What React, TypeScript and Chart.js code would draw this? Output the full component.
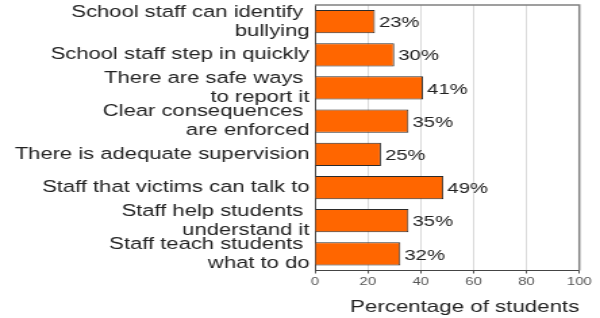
import React, { useEffect, useRef } from "react";
import { Chart, registerables } from "chart.js";

Chart.register(...registerables);

const categories: (string | string[])[] = [
  ["School staff can identify ", "bullying"],
  "School staff step in quickly",
  ["There are safe ways ", "to report it"],
  ["Clear consequences ", "are enforced"],
  "There is adequate supervision",
  "Staff that victims can talk to",
  ["Staff help students ", "understand it"],
  ["Staff teach students ", "what to do"],
];
const values = [22.7, 30, 40.9, 35.4, 25, 48.6, 35.4, 32.3];
const valueLabels = ["23%", "30%", "41%", "35%", "25%", "49%", "35%", "32%"];
const xTickValues = [0, 20, 40, 60, 80, 100];
const xTitle = "Percentage of students";

const FONT = "'Liberation Sans', Arial, Helvetica, sans-serif";
const INTERNAL_W = 444;
const H = 318;

const valueLabelPlugin = {
  id: "valueLabels",
  afterDatasetsDraw(chart: any) {
    const { ctx, chartArea } = chart;
    const meta = chart.getDatasetMeta(0);
    ctx.save();
    ctx.strokeStyle = "#808080";
    ctx.lineWidth = 1.5;
    ctx.beginPath();
    ctx.moveTo(chartArea.left, chartArea.top);
    ctx.lineTo(chartArea.right, chartArea.top);
    ctx.lineTo(chartArea.right, chartArea.bottom);
    ctx.stroke();
    ctx.font = `15px ${FONT}`;
    ctx.fillStyle = "#222";
    ctx.textAlign = "left";
    ctx.textBaseline = "middle";
    meta.data.forEach((bar: any, i: number) => {
      ctx.fillText(valueLabels[i], bar.x + 3, bar.y + 1.5);
    });
    ctx.restore();
  },
};

export default function App() {
  const ref = useRef<HTMLCanvasElement>(null);
  useEffect(() => {
    const canvas = ref.current!;
    const chart = new Chart(canvas, {
      type: "bar",
      data: {
        labels: categories,
        datasets: [
          {
            data: values,
            backgroundColor: "#FF6600",
            borderColor: "#2b2b2b",
            borderWidth: 1,
            barPercentage: 0.7,
            categoryPercentage: 1,
          },
        ],
      },
      options: {
        indexAxis: "y",
        animation: false,
        responsive: false,
        devicePixelRatio: 1,
        layout: {
          autoPadding: false,
          padding: { top: 5, right: 15.3, bottom: 0, left: 0 },
        },
        plugins: {
          legend: { display: false },
          tooltip: { enabled: false },
        },
        scales: {
          x: {
            type: "linear",
            min: 0,
            max: 100,
            afterBuildTicks: (scale: any) => {
              scale.ticks = xTickValues.map((v) => ({ value: v }));
            },
            afterFit: (scale: any) => {
              scale.height = 47.5;
              scale.paddingLeft = 0;
              scale.paddingRight = 0;
            },
            ticks: {
              font: { family: FONT, size: 11 },
              color: "#555",
              padding: 2,
              maxRotation: 0,
            },
            grid: {
              color: "#dadada",
              lineWidth: 1,
              tickColor: "#555",
              tickLength: 3,
            },
            border: { display: true, color: "#444", width: 1 },
            title: {
              display: true,
              text: xTitle,
              align: "end",
              color: "#222",
              font: { family: FONT, size: 16.5 },
              padding: { top: 0, bottom: 0.5 },
            },
          },
          y: {
            type: "category",
            afterFit: (scale: any) => {
              scale.width = 233;
              scale.paddingTop = 0;
              scale.paddingBottom = 0;
            },
            ticks: {
              font: { family: FONT, size: 16.3, lineHeight: 1.17 },
              color: "#222",
              padding: 4,
              autoSkip: false,
            },
            grid: { display: false, drawTicks: false },
            border: { display: true, color: "#444", width: 1 },
          },
        },
      },
      plugins: [valueLabelPlugin],
    } as any);
    return () => chart.destroy();
  }, []);
  return (
    <div style={{ position: "absolute", left: 0, top: 0, width: 600, height: H, background: "#fff" }}>
      <canvas
        ref={ref}
        width={INTERNAL_W}
        height={H}
        style={{ width: "600px", height: `${H}px`, display: "block" }}
      />
    </div>
  );
}
